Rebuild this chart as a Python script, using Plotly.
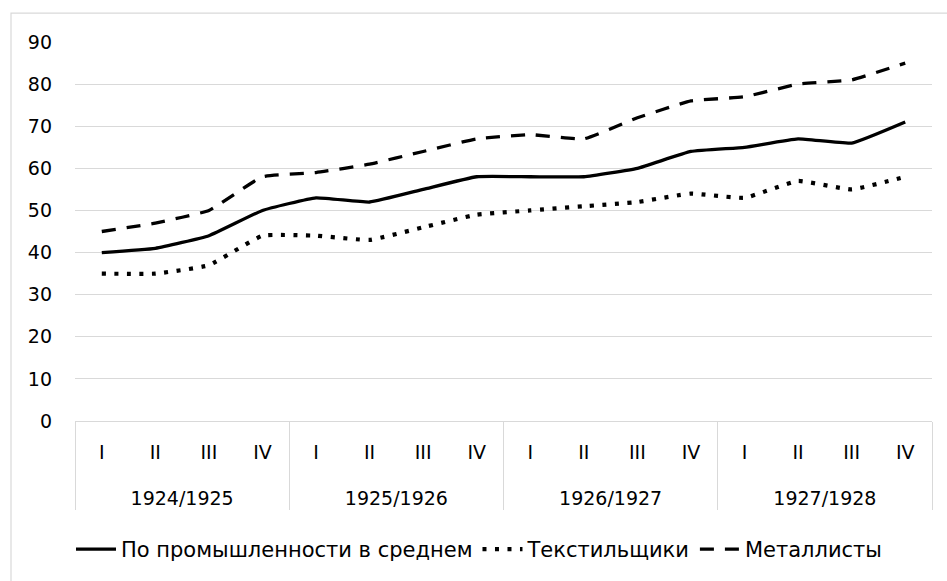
import plotly.graph_objects as go

years = ["1924/1925", "1925/1926", "1926/1927", "1927/1928"]
quarters = ["I", "II", "III", "IV"]

avg_industry = [40, 41, 44, 50, 53, 52, 55, 58, 58, 58, 60, 64, 65, 67, 66, 71]
textile = [35, 35, 37, 44, 44, 43, 46, 49, 50, 51, 52, 54, 53, 57, 55, 58]
metal = [45, 47, 50, 58, 59, 61, 64, 67, 68, 67, 72, 76, 77, 80, 81, 85]

names = ["По промышленности в среднем", "Текстильщики", "Металлисты"]

# quarter labels get an empty (tall) second line so the year row sits lower, as in the reference
spacer = "<br><span style='font-size:50px'> </span>"
x_years = [y for y in years for _ in quarters]
x_quarters = [q + spacer for _ in years for q in quarters]
x = [x_years, x_quarters]

W, H = 947, 581
L, R, T, B = 75, 932, 41.7, 421.3

fig = go.Figure()
fig.add_trace(go.Scatter(x=x, y=avg_industry, name=names[0], mode="lines",
                         line=dict(color="black", width=3.3, shape="spline", smoothing=0.35)))
fig.add_trace(go.Scatter(x=x, y=textile, name=names[1], mode="lines",
                         line=dict(color="black", width=4.2, dash="4px,8.5px", shape="spline", smoothing=0.35)))
fig.add_trace(go.Scatter(x=x, y=metal, name=names[2], mode="lines",
                         line=dict(color="black", width=3.3, dash="14px,11px", shape="spline", smoothing=0.35)))

pw, ph = R - L, B - T
def px2paper_x(p):
    return (p - L) / pw
def px2paper_y(p):
    return (B - p) / ph

fig.add_shape(type="rect", xref="paper", yref="paper",
              x0=px2paper_x(11), x1=px2paper_x(965),
              y0=px2paper_y(600), y1=px2paper_y(12.7),
              line=dict(color="#d9d9d9", width=1.2), fillcolor="rgba(0,0,0,0)", layer="below")

font = dict(family="DejaVu Sans", size=19, color="#000000")

fig.update_layout(
    width=W, height=H,
    margin=dict(l=L, r=W - R, t=T, b=H - B, pad=0, autoexpand=False),
    paper_bgcolor="white", plot_bgcolor="white",
    font=font,
    showlegend=True,
    hovermode=False,
    legend=dict(orientation="h", x=px2paper_x(479), xanchor="center",
                y=px2paper_y(550), yanchor="middle",
                font=dict(family="DejaVu Sans", size=21, color="#000000"),
                itemwidth=40, tracegroupgap=0, bgcolor="rgba(0,0,0,0)"),
    xaxis=dict(type="multicategory", range=[-0.5, 15.5], automargin=False,
               showgrid=False, showline=True, linecolor="#d9d9d9",
               linewidth=1.3, ticks="", ticklabelstandoff=14,
               showdividers=True, dividercolor="#d9d9d9",
               dividerwidth=1.3, tickfont=font),
    yaxis=dict(range=[0, 90], dtick=10, automargin=False, showgrid=True,
               gridcolor="#d9d9d9", gridwidth=1.3,
               zeroline=False, showline=False, ticks="", tickfont=font,
               ticklabelstandoff=22),
)

fig.write_html("out.html", config={"displayModeBar": False},
               post_script="document.body.style.margin='0px';")
